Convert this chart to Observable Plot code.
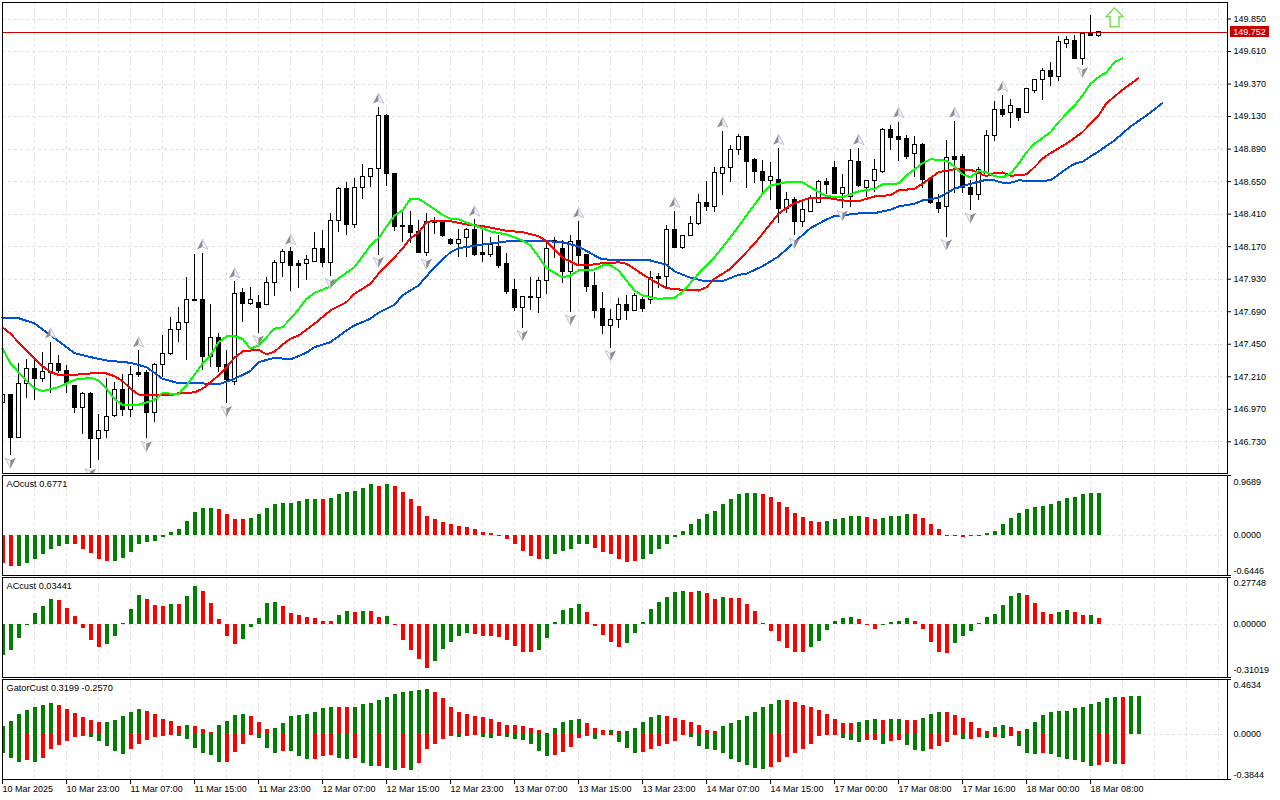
<!DOCTYPE html>
<html>
<head>
<meta charset="utf-8">
<script src="https://cdn.jsdelivr.net/npm/d3@7"></script>
<script src="https://cdn.jsdelivr.net/npm/@observablehq/plot@0.6"></script>
<style>
html,body{margin:0;padding:0;background:#fff}
svg{display:block}
</style>
</head>
<body>
<div id="chart"></div>
<script>
const open=[147.03,147.09,146.78,147.17,147.28,147.21,147.25,147.32,147.27,147.155,147.00,147.10,146.77,146.825,146.935,147.13,146.985,147.25,147.25,146.96,147.31,147.39,147.57,147.62,147.785,147.785,147.37,147.51,147.315,147.19,147.84,147.76,147.77,147.75,147.91,148.06,148.14,148.055,148.055,148.07,148.16,148.06,148.365,148.60,148.34,148.61,148.69,148.745,149.134,148.71,148.33,148.33,148.29,148.13,148.365,148.36,148.23,148.20,148.24,148.305,148.13,148.115,148.18,148.05,147.86,147.73,147.807,147.80,147.93,148.21,148.165,147.995,148.22,148.115,147.888,147.72,147.595,147.645,147.755,147.705,147.79,147.79,147.954,147.954,148.305,148.173,148.26,148.342,148.503,148.467,148.709,148.753,148.885,148.98,148.811,148.73,148.657,148.665,148.459,148.525,148.357,148.437,148.503,148.65,148.753,148.569,148.54,148.797,148.613,148.657,148.723,149.038,148.98,148.965,148.855,148.928,148.672,148.503,148.467,148.833,148.84,148.606,148.555,148.694,148.994,149.178,149.156,149.185,149.156,149.324,149.398,149.464,149.42,149.662,149.684,149.552,149.735,149.727];
const high=[147.09,147.09,147.32,147.35,147.35,147.40,147.48,147.38,147.31,147.16,147.11,147.11,146.95,147.21,147.18,147.24,147.30,147.42,147.27,147.32,147.53,147.66,147.73,147.95,148.12,148.13,147.755,147.54,147.42,147.925,147.87,147.88,147.82,147.95,148.08,148.16,148.17,148.08,148.115,148.28,148.30,148.42,148.61,148.65,148.68,148.78,148.75,149.20,149.15,148.71,148.44,148.44,148.37,148.42,148.39,148.37,148.24,148.305,148.31,148.38,148.31,148.25,148.26,148.13,147.94,147.815,147.95,147.95,148.225,148.25,148.225,148.26,148.365,148.115,147.99,147.845,147.72,147.80,147.82,147.836,147.807,147.997,147.983,148.335,148.437,148.26,148.40,148.562,148.657,148.76,149.024,148.921,149.002,148.98,148.826,148.811,148.797,148.899,148.577,148.54,148.503,148.555,148.665,148.679,148.804,148.709,148.892,148.899,148.665,148.819,149.046,149.068,149.09,148.994,148.987,148.935,148.679,148.562,148.958,149.097,148.855,148.665,148.76,149.031,149.244,149.288,149.258,149.192,149.339,149.398,149.486,149.53,149.72,149.72,149.728,149.735,149.874,149.75];
const low=[147.03,146.65,146.77,147.07,147.05,147.18,147.10,147.25,147.10,146.96,146.80,146.55,146.61,146.77,146.93,146.935,146.93,147.22,146.77,146.89,147.22,147.38,147.48,147.345,147.78,147.27,147.29,147.26,147.03,147.16,147.62,147.75,147.54,147.75,147.815,147.95,147.85,147.87,147.93,148.07,148.03,147.96,148.28,148.26,148.31,148.525,148.61,148.115,148.62,148.29,148.21,148.20,148.13,148.11,148.27,148.245,148.19,148.10,148.10,148.11,148.06,148.10,148.02,147.83,147.705,147.58,147.71,147.69,147.83,148.09,147.91,147.70,148.04,147.84,147.65,147.535,147.43,147.58,147.64,147.705,147.697,147.755,147.873,147.873,148.166,148.159,148.254,148.335,148.437,148.43,148.555,148.65,148.848,148.606,148.643,148.577,148.518,148.349,148.423,148.261,148.32,148.437,148.503,148.562,148.569,148.459,148.467,148.613,148.54,148.577,148.716,148.885,148.804,148.818,148.687,148.606,148.489,148.423,148.247,148.569,148.569,148.445,148.518,148.687,148.95,149.126,149.046,149.097,149.156,149.302,149.251,149.354,149.39,149.632,149.552,149.508,149.727,149.713];
const close=[147.09,146.78,147.17,147.28,147.21,147.26,147.32,147.27,147.17,147.00,147.10,146.77,146.825,146.93,147.13,146.985,147.24,147.235,146.96,147.31,147.39,147.57,147.62,147.785,147.78,147.37,147.51,147.30,147.20,147.836,147.76,147.785,147.73,147.91,148.06,148.14,148.04,148.04,148.085,148.16,148.06,148.37,148.60,148.34,148.61,148.69,148.745,149.134,148.71,148.32,148.32,148.28,148.13,148.36,148.355,148.255,148.20,148.23,148.30,148.115,148.115,148.19,148.04,147.85,147.73,147.807,147.80,147.93,148.16,148.22,147.995,148.21,148.11,147.88,147.71,147.595,147.645,147.755,147.705,147.82,147.726,147.946,147.94,148.305,148.173,148.26,148.342,148.503,148.467,148.716,148.753,148.885,148.98,148.797,148.723,148.657,148.687,148.459,148.525,148.357,148.445,148.533,148.65,148.628,148.569,148.613,148.804,148.621,148.657,148.738,149.038,148.973,148.958,148.833,148.928,148.665,148.503,148.459,148.826,148.818,148.606,148.555,148.738,148.994,149.178,149.148,149.207,149.119,149.332,149.398,149.464,149.42,149.676,149.691,149.552,149.735,149.727,149.75];

const blueIdx=[0,2,4,6,8,9,11,13,16,18,20,22,25,27,29,31,32,34,36,38,39,41,43,44,46,47,49,50,52,54,56,57,60,63,68,70,72,74,75,77,81,83,84,86,88,90,92,93,95,97,99,101,103,104,107,109,111,112,114,115,117,119,121,123,124,125,126,127,129,131,133,134,135,137,139,141,143,145];
const blueVal=[147.66,147.655,147.617,147.53,147.443,147.399,147.37,147.345,147.328,147.296,147.211,147.179,147.177,147.169,147.211,147.267,147.333,147.365,147.353,147.402,147.443,147.479,147.565,147.602,147.651,147.695,147.754,147.822,147.895,148.029,148.139,148.168,148.195,148.218,148.22,148.212,148.181,148.115,148.086,148.083,148.078,148.047,147.998,147.951,147.924,147.926,147.973,147.981,148.036,148.107,148.212,148.315,148.379,148.403,148.423,148.425,148.45,148.474,148.494,148.518,148.538,148.604,148.64,148.67,148.665,148.648,148.648,148.665,148.662,148.665,148.75,148.787,148.802,148.877,148.958,149.06,149.141,149.231];
const redIdx=[0,1,2,3,4,5,6,7,9,11,13,14,15,16,17,18,21,22,24,25,26,27,28,29,30,32,33,34,35,36,37,39,41,43,44,46,47,49,50,51,52,53,54,56,58,60,63,65,67,68,69,70,72,73,75,76,77,78,79,80,82,83,85,87,88,89,91,92,94,96,97,98,99,101,103,105,107,109,111,112,114,115,117,119,121,123,124,125,126,128,129,130,131,133,135,137,138,140,142];
const redVal=[147.589,147.541,147.479,147.419,147.358,147.303,147.259,147.24,147.24,147.25,147.25,147.23,147.194,147.138,147.096,147.089,147.089,147.106,147.111,147.138,147.186,147.235,147.296,147.365,147.411,147.424,147.389,147.409,147.462,147.504,147.528,147.614,147.712,147.773,147.834,147.907,147.981,148.102,148.164,148.242,148.281,148.359,148.371,148.366,148.342,148.33,148.296,148.286,148.256,148.22,148.159,148.098,148.042,148.042,148.058,148.058,148.066,148.054,148.017,147.976,147.907,147.875,147.863,147.858,147.882,147.944,148.017,148.078,148.201,148.347,148.42,148.464,148.498,148.538,148.538,148.518,148.513,148.547,148.557,148.591,148.604,148.64,148.725,148.747,148.743,148.696,148.721,148.723,148.699,148.709,148.762,148.824,148.865,148.934,149.019,149.141,149.231,149.329,149.414];
const greenIdx=[0,1,2,3,4,5,7,9,11,12,13,14,15,17,19,20,22,23,25,26,27,28,29,30,31,32,33,34,35,36,37,38,39,41,42,44,46,47,49,50,51,52,53,55,56,57,59,61,63,65,66,67,68,70,71,72,74,75,76,77,78,79,80,82,84,85,87,89,91,93,95,96,98,100,101,103,105,107,109,110,112,113,115,116,118,119,120,121,122,123,124,125,126,127,128,129,131,132,134,135,136,137,138,139,140];
const greenVal=[147.431,147.325,147.259,147.194,147.142,147.12,147.149,147.204,147.218,147.199,147.138,147.064,147.02,147.02,147.057,147.106,147.098,147.162,147.321,147.382,147.479,147.521,147.523,147.504,147.431,147.455,147.516,147.578,147.589,147.651,147.719,147.797,147.841,147.888,147.948,148.029,148.188,148.242,148.408,148.445,148.53,148.53,148.494,148.413,148.384,148.379,148.335,148.291,148.269,148.225,148.188,148.107,148.022,147.954,147.968,148.005,148.012,148.042,148.042,148.005,147.932,147.858,147.822,147.797,147.805,147.846,147.981,148.102,148.249,148.408,148.567,148.628,148.652,148.652,148.615,148.549,148.542,148.584,148.604,148.635,148.643,148.701,148.791,148.821,148.809,148.767,148.709,148.689,148.733,148.725,148.696,148.687,148.714,148.787,148.872,148.934,149.019,149.092,149.214,149.288,149.373,149.422,149.458,149.532,149.561];

const upIdx=[6,17,25,29,36,47,59,72,84,90,97,107,112,119,125];
const upVal=[147.545,147.479,148.195,147.985,148.23,149.266,148.44,148.428,148.503,149.09,148.963,148.963,149.161,149.161,149.354];
const downIdx=[1,11,18,28,32,41,47,53,65,71,76,99,105,118,121,135];
const downVal=[146.595,146.517,146.717,146.974,147.492,147.91,148.066,148.054,147.528,147.643,147.382,148.205,148.408,148.195,148.391,149.458];

const aoVal=[-.50,-.55,-.55,-.50,-.44,-.35,-.26,-.19,-.17,-.17,-.25,-.32,-.43,-.46,-.46,-.41,-.30,-.16,-.12,-.10,-.03,.06,.11,.26,.42,.49,.49,.46,.37,.29,.28,.31,.37,.49,.55,.58,.58,.62,.64,.65,.65,.67,.73,.78,.80,.85,.91,.89,.92,.89,.78,.65,.53,.35,.28,.24,.20,.17,.15,.11,.06,.04,-.01,-.08,-.17,-.28,-.37,-.44,-.43,-.35,-.28,-.25,-.17,-.16,-.23,-.30,-.35,-.44,-.48,-.46,-.43,-.34,-.25,-.16,-.03,.08,.19,.29,.38,.44,.55,.64,.73,.76,.76,.73,.69,.60,.51,.40,.33,.26,.24,.26,.29,.31,.35,.35,.33,.29,.31,.35,.35,.37,.37,.31,.20,.10,-.01,-.01,-.03,-.02,-.01,.04,.08,.19,.31,.40,.47,.51,.53,.56,.62,.67,.69,.73,.76,.76];
const aoRuns="2R 7G 5R 13G 4R 9G 1R 6G 1R 1G 19R 6G 6R 15G 8R 5G 2R 4G 8R 16G";
const acVal=[-.208,-.174,-.093,-.005,.077,.124,.172,.165,.111,.057,-.025,-.106,-.154,-.133,-.079,.007,.104,.199,.172,.131,.124,.138,.138,.192,.260,.226,.145,.036,-.079,-.133,-.099,-.018,.043,.145,.151,.124,.077,.063,.050,.043,.023,.023,.063,.090,.084,.090,.090,.050,.057,-.009,-.106,-.174,-.235,-.296,-.249,-.167,-.120,-.079,-.059,-.066,-.079,-.079,-.086,-.106,-.147,-.188,-.188,-.174,-.093,.016,.097,.111,.138,.084,-.011,-.072,-.120,-.154,-.127,-.059,.016,.104,.151,.185,.219,.226,.219,.226,.212,.172,.185,.179,.179,.138,.090,.007,-.045,-.113,-.160,-.188,-.188,-.154,-.113,-.038,.023,.043,.050,.036,-.005,-.032,-.005,.016,.023,.043,.023,-.032,-.120,-.188,-.194,-.127,-.079,-.045,.007,.050,.070,.131,.192,.212,.199,.145,.084,.070,.084,.097,.084,.063,.063,.043];
const acRuns="7G 6R 5G 3R 1G 1R 2G 5R 5G 7R 2G 1R 1G 2R 1G 5R 5G 8R 6G 5R 8G 1R 1G 2R 1G 10R 6G 3R 4G 5R 9G 4R 2G 2R 1G 1R";
const gatorUp=[.08,.12,.19,.23,.26,.27,.29,.27,.24,.20,.16,.13,.11,.11,.13,.17,.21,.24,.22,.19,.14,.12,.08,.09,.08,.05,.02,.09,.12,.18,.19,.17,.11,.05,.06,.10,.17,.18,.19,.21,.25,.26,.26,.26,.26,.28,.29,.32,.35,.38,.40,.41,.42,.43,.40,.34,.26,.21,.19,.17,.16,.14,.11,.09,.09,.08,.06,.04,.01,.06,.11,.13,.14,.10,.06,.04,.04,.03,.03,.06,.11,.16,.18,.17,.15,.13,.11,.09,.04,.03,.08,.10,.13,.17,.21,.26,.28,.32,.32,.30,.27,.26,.23,.19,.14,.10,.10,.11,.13,.14,.13,.14,.14,.13,.13,.15,.19,.21,.21,.18,.15,.11,.06,.03,.07,.09,.07,.03,.05,.11,.18,.21,.22,.22,.25,.26,.28,.30,.34,.35,.35,.36,.36];
const gatorUpRuns="7G 6R 5G 5R 1G 3R 4G 3R 8G 2R 10G 15R 4G 3R 1G 1R 5G 7R 8G 9R 3G 1R 2G 2R 3G 6R 2G 2R 12G 1R 2G";
const gatorDown=[-.18,-.23,-.26,-.25,-.26,-.23,-.14,-.10,-.07,-.03,-.02,-.03,-.07,-.11,-.16,-.19,-.14,-.09,-.06,-.03,-.02,-.01,-.02,-.05,-.13,-.18,-.20,-.26,-.26,-.17,-.09,-.01,-.04,-.13,-.18,-.16,-.16,-.21,-.24,-.24,-.21,-.20,-.23,-.24,-.23,-.27,-.30,-.30,-.32,-.34,-.32,-.34,-.27,-.14,-.09,-.05,-.02,-.03,-.02,-.01,-.03,-.04,-.02,-.03,-.05,-.06,-.09,-.16,-.21,-.20,-.17,-.12,-.04,-.02,-.05,-.01,-.01,-.08,-.13,-.18,-.17,-.14,-.11,-.09,-.07,-.01,-.03,-.11,-.14,-.15,-.18,-.24,-.26,-.29,-.32,-.33,-.31,-.26,-.22,-.18,-.14,-.09,-.02,-.01,-.01,-.04,-.06,-.08,-.06,-.06,-.09,-.07,-.06,-.10,-.15,-.16,-.14,-.11,-.08,-.01,-.05,-.05,-.03,-.04,-.03,-.04,-.02,-.11,-.18,-.19,-.18,-.19,-.22,-.24,-.25,-.26,-.30,-.29,-.26,-.28,-.28,0,0];
const gatorDownRuns="3G 1R 1G 6R 5G 6R 6G 4R 3G 1R 3G 3R 2G 1R 2G 1R 2G 1R 1G 5R 1G 2R 2G 1R 6G 5R 1G 2R 3G 6R 10G 9R 3G 2R 1G 2R 3G 4R 1G 2R 1G 1R 1G 1R 3G 1R 6G 2R 1G 1R 2G";

const priceTicks=[149.85,149.61,149.37,149.13,148.89,148.65,148.41,148.17,147.93,147.69,147.45,147.21,146.97,146.73];
const timeLabels=["10 Mar 2025","10 Mar 23:00","11 Mar 07:00","11 Mar 15:00","11 Mar 23:00","12 Mar 07:00","12 Mar 15:00","12 Mar 23:00","13 Mar 07:00","13 Mar 15:00","13 Mar 23:00","14 Mar 07:00","14 Mar 15:00","17 Mar 00:00","17 Mar 08:00","17 Mar 16:00","18 Mar 00:00","18 Mar 08:00"];
const lastPrice=149.752;
const signalIdx=139, signalPrice=149.863;

// the prices above were read against a slightly coarse ruler: align them with the printed price axis
const cal=v=>149.987-(149.984-v)*1.0068;
const expand=s=>s.split(" ").flatMap(r=>Array(parseInt(r)).fill(r.slice(-1)));
const colorOf={G:"#008000",R:"#ff0000"};
const xDomain=[0,153.125];
const grid=d3.range(4,153,4);
const font="'Liberation Sans',Arial,sans-serif";
const gridStyle={stroke:"#e2e2e2",strokeDasharray:"3,3",shapeRendering:"crispEdges"};

const candles=open.map((o,i)=>({i,o:cal(o),h:cal(high[i]),l:cal(low[i]),c:cal(close[i])}));
const pairs=(idx,val)=>idx.map((i,k)=>({i,v:cal(val[k])}));

const half=(pts)=>({draw(ctx){ctx.moveTo(pts[0][0],pts[0][1]);for(const p of pts.slice(1))ctx.lineTo(p[0],p[1]);ctx.closePath();}});
const upL=half([[0,-5.5],[-5.5,5],[0,2.5]]),upR=half([[0,-5.5],[5.5,5],[0,2.5]]);
const dnL=half([[0,5.5],[-5.5,-5],[0,-2.5]]),dnR=half([[0,5.5],[5.5,-5],[0,-2.5]]);
const bigArrow=half([[0,-9.5],[8.3,-.5],[4.5,-.5],[4.5,9.5],[-4.5,9.5],[-4.5,-.5],[-8.3,-.5]]);
const lineStyle={x:"i",y:"v",strokeWidth:2,shapeRendering:"crispEdges"};

const main=Plot.plot({
  width:1280,height:475,marginLeft:2,marginRight:53,marginTop:2,marginBottom:2,
  style:{fontFamily:font,fontSize:"9px",color:"#000",background:"#fff",overflow:"visible"},
  x:{domain:xDomain,axis:null},
  y:{domain:[146.496,149.972],axis:null},
  marks:[
    Plot.ruleX(grid,{...gridStyle}),
    Plot.ruleY(priceTicks,{...gridStyle}),
    Plot.ruleX(candles,{x:"i",y1:"l",y2:"h",stroke:"#000",strokeWidth:1,clip:true,shapeRendering:"crispEdges"}),
    Plot.rect(candles,{x1:d=>d.i-.25,x2:d=>d.i+.25,y1:"o",y2:"c",fill:d=>d.c>=d.o?"#fff":"#000",stroke:"#000",strokeWidth:1,clip:true,shapeRendering:"crispEdges"}),
    Plot.line(pairs(blueIdx,blueVal),{...lineStyle,stroke:"#0050d8"}),
    Plot.line(pairs(redIdx,redVal),{...lineStyle,stroke:"#ff0000"}),
    Plot.line(pairs(greenIdx,greenVal),{...lineStyle,stroke:"#00ff00"}),
    Plot.dot(pairs(upIdx,upVal),{x:"i",y:"v",r:5,symbol:upL,fill:"#8c8c8c",stroke:"none",clip:true}),
    Plot.dot(pairs(upIdx,upVal),{x:"i",y:"v",r:5,symbol:upR,fill:"#f0f0f6",stroke:"#c2c6d6",strokeWidth:1,clip:true}),
    Plot.dot(pairs(downIdx,downVal),{x:"i",y:"v",r:5,symbol:dnL,fill:"#f0f0f6",stroke:"#c2c6d6",strokeWidth:1,clip:true}),
    Plot.dot(pairs(downIdx,downVal),{x:"i",y:"v",r:5,symbol:dnR,fill:"#8c8c8c",stroke:"none",clip:true}),
    Plot.dot([{i:signalIdx,v:signalPrice}],{x:"i",y:"v",r:8,symbol:bigArrow,fill:"#fff",stroke:"#7edc5a",strokeWidth:1.5}),
    Plot.ruleY([lastPrice],{stroke:"#cc0000",strokeWidth:1,shapeRendering:"crispEdges"}),
    Plot.axisY(priceTicks,{anchor:"right",label:null,tickSize:3,tickPadding:3,tickFormat:d=>d.toFixed(3)}),
    Plot.rect([lastPrice],{x1:153.5,x2:158.4,y1:d=>d-.04,y2:d=>d+.04,fill:"#c80000",shapeRendering:"crispEdges"}),
    Plot.text([lastPrice],{x:153.85,y:d=>d,text:d=>d.toFixed(3),fill:"#fff",textAnchor:"start"}),
    Plot.frame({stroke:"#000"})
  ]
});

function indicator({label,yDomain,labelTicks,digits,series,height,marginBottom,xAxis}){
  return Plot.plot({
    width:1280,height,marginLeft:2,marginRight:53,marginTop:0,marginBottom,
    style:{fontFamily:font,fontSize:"9px",color:"#000",background:"#fff",overflow:"visible"},
    x:{domain:xDomain,axis:null},
    y:{domain:yDomain,axis:null},
    marks:[
      Plot.ruleX(grid,{...gridStyle}),
      Plot.ruleY([0],{...gridStyle}),
      ...series.map(s=>{
        const c=expand(s.runs);
        const rows=s.values.map((v,i)=>({i,v,c:colorOf[c[i]]}));
        return Plot.rect(rows,{x1:d=>d.i-.1875,x2:d=>d.i+.3125,y1:()=>0,y2:"v",fill:"c",clip:true,shapeRendering:"crispEdges"});
      }),
      Plot.axisY(labelTicks,{anchor:"right",label:null,tickSize:0,tickPadding:6,tickFormat:d=>d.toFixed(digits)}),
      Plot.axisY(yDomain,{anchor:"right",label:null,tickSize:3,tickFormat:()=>""}),
      Plot.text([label],{frameAnchor:"top-left",dx:4,dy:5,text:d=>d,fontSize:9.2,lineAnchor:"top"}),
      ...(xAxis?[Plot.axisX(d3.range(0,137,8),{anchor:"bottom",label:null,tickSize:5,tickPadding:1,textAnchor:"start",tickFormat:i=>timeLabels[i/8]})]:[]),
      Plot.frame({stroke:"#000"})
    ]
  });
}

const ao=indicator({label:"AOcust 0.6771",yDomain:[-.72,1.08],labelTicks:[.9689,0,-.6446],digits:4,series:[{values:aoVal,runs:aoRuns}],height:102,marginBottom:2});
const ac=indicator({label:"ACcust 0.03441",yDomain:[-.359,.318],labelTicks:[.27748,0,-.31019],digits:5,series:[{values:acVal,runs:acRuns}],height:102,marginBottom:2});
const gator=indicator({label:"GatorCust 0.3199 -0.2570",yDomain:[-.425,.52],labelTicks:[.4634,0,-.3844],digits:4,series:[{values:gatorUp,runs:gatorUpRuns},{values:gatorDown,runs:gatorDownRuns}],height:121,marginBottom:21,xAxis:true});

const root=document.getElementById("chart");
root.append(main,ao,ac,gator);
</script>
</body>
</html>
